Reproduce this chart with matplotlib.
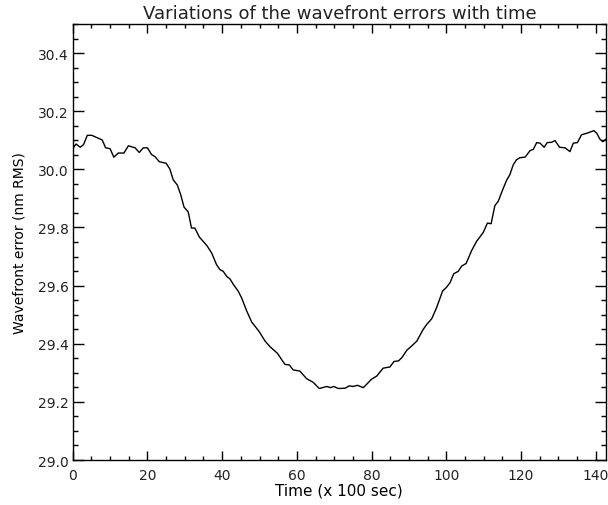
import matplotlib
matplotlib.use("Agg")
import matplotlib.pyplot as plt
from matplotlib.ticker import MultipleLocator

# time (x 100 sec) and wavefront error (nm RMS)
time = [0.0, 0.9, 2.0, 2.9, 3.9, 5.1, 7.9, 8.8, 10.0, 11.0, 12.2, 13.7, 14.9,
        16.7, 17.8, 18.9, 20.0, 21.1, 22.0, 23.2, 25.0, 26.0, 26.9, 28.0, 28.9,
        29.8, 30.9, 31.8, 32.7, 33.9, 35.9, 37.2, 38.5, 39.4, 40.3, 41.2, 42.1,
        43.0, 44.3, 45.2, 46.6, 47.9, 49.9, 51.5, 52.8, 54.8, 56.8, 58.0, 59.0,
        60.8, 62.6, 64.4, 66.0, 68.0, 69.0, 69.9, 71.1, 72.9, 74.0, 75.1, 76.2,
        77.8, 80.0, 81.4, 83.1, 84.9, 86.0, 87.2, 88.1, 89.4, 90.7, 92.1, 93.8,
        94.8, 96.1, 97.4, 99.0, 100.1, 101.0, 102.0, 103.2, 104.1, 105.3, 106.8,
        108.1, 109.9, 111.0, 112.0, 113.0, 113.9, 115.1, 116.2, 117.0, 117.9,
        118.8, 119.7, 121.1, 122.4, 123.3, 124.2, 125.1, 126.2, 127.0, 128.2,
        129.1, 130.3, 131.8, 133.1, 134.0, 135.1, 136.2, 137.6, 139.5, 140.3,
        141.1, 141.9, 142.75]
wfe = [30.072, 30.087, 30.076, 30.085, 30.117, 30.117, 30.101, 30.074, 30.071,
       30.042, 30.056, 30.056, 30.081, 30.074, 30.058, 30.074, 30.074, 30.051,
       30.044, 30.026, 30.021, 30.001, 29.964, 29.946, 29.913, 29.870, 29.854,
       29.798, 29.798, 29.767, 29.738, 29.712, 29.672, 29.655, 29.649, 29.632,
       29.623, 29.604, 29.581, 29.558, 29.512, 29.475, 29.442, 29.409, 29.390,
       29.367, 29.329, 29.327, 29.310, 29.306, 29.280, 29.267, 29.246, 29.253,
       29.249, 29.253, 29.246, 29.247, 29.255, 29.253, 29.257, 29.249, 29.278,
       29.289, 29.316, 29.320, 29.339, 29.341, 29.352, 29.377, 29.392, 29.409,
       29.449, 29.467, 29.486, 29.524, 29.581, 29.595, 29.610, 29.641, 29.649,
       29.667, 29.676, 29.721, 29.752, 29.783, 29.815, 29.813, 29.875, 29.890,
       29.930, 29.964, 29.981, 30.015, 30.033, 30.040, 30.042, 30.064, 30.069,
       30.092, 30.090, 30.076, 30.092, 30.093, 30.099, 30.076, 30.074, 30.061,
       30.090, 30.092, 30.119, 30.124, 30.133, 30.124, 30.104, 30.095, 30.104]

plt.rcParams['font.family'] = 'DejaVu Sans'
plt.rcParams['text.color'] = '#222222'

fig = plt.figure(figsize=(6.08, 5.06), dpi=100)
ax = fig.add_axes([0.1196, 0.0889, 0.8771, 0.8617])

ax.plot(time, wfe, color='black', linewidth=1.0)

ax.set_xlim(0, 142.75)
ax.set_ylim(29.0, 30.5)
ax.xaxis.set_major_locator(MultipleLocator(20))
ax.xaxis.set_minor_locator(MultipleLocator(5))
ax.yaxis.set_major_locator(MultipleLocator(0.2))
ax.yaxis.set_minor_locator(MultipleLocator(0.05))
ax.yaxis.set_major_formatter(plt.FormatStrFormatter('%.1f'))

ax.tick_params(axis='x', which='major', direction='in', length=6.3, width=1,
               top=True, labelsize=10, pad=6, labelcolor='#222222')
ax.tick_params(axis='x', which='minor', direction='in', length=3.1, width=1, top=True)
ax.tick_params(axis='y', which='major', direction='in', length=7.7, width=1,
               right=True, labelsize=10, pad=3, labelcolor='#222222')
ax.tick_params(axis='y', which='minor', direction='in', length=3.8, width=1, right=True)
for s in ax.spines.values():
    s.set_linewidth(1.0)

ax.set_xlabel('Time (x 100 sec)', fontsize=11, labelpad=0)
ax.set_ylabel('Wavefront error (nm RMS)', fontsize=10, labelpad=8)
ax.set_title('Variations of the wavefront errors with time', fontsize=13, pad=4)

fig.savefig('out.png', dpi=100)
